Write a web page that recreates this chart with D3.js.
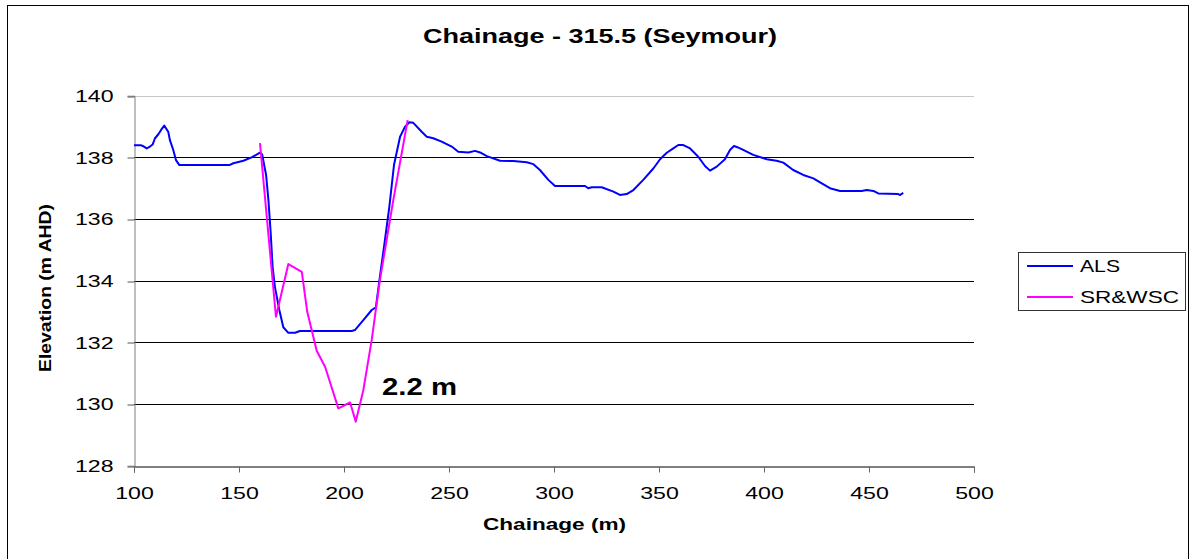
<!DOCTYPE html>
<html><head><meta charset="utf-8">
<script src="https://cdn.jsdelivr.net/npm/d3@7"></script>
<style>html,body{margin:0;padding:0;background:#fff;overflow:hidden}</style>
</head><body>
<svg id="chart" width="1190" height="559"></svg>
<script>
const titleText = "Chainage - 315.5 (Seymour)";
const xLabel = "Chainage (m)";
const yLabel = "Elevation (m AHD)";
const annotationText = "2.2 m";
const seriesNames = ["ALS", "SR&WSC"];
const xTicks = [100, 150, 200, 250, 300, 350, 400, 450, 500];
const yTicks = [128, 130, 132, 134, 136, 138, 140];

const alsX = [100,103.5,104.2,106,107.6,108.9,110,111.6,112.9,114.4,116.3,117.1,118.7,120,121.6,145.4,147.3,152.1,156,160,161,162.9,164,165.1,166,167.1,169.2,171.1,173.5,176.7,179,203.7,205.2,209.2,213.2,215.2,217.1,219.5,221.6,223.8,226.7,229,231.1,233,237,239.4,242.5,246.5,251.3,254.4,259.2,262.4,264.8,268,274.3,280.6,287,290.2,293.3,297.3,300.5,314.8,316.3,318,322.7,328.3,331.4,334.6,337.8,342.5,347.3,350.5,353.7,356.8,359.2,361.6,364.8,368.7,371.9,374.3,377.5,381.4,383.8,385.7,387.3,390.1,394.9,401.3,406,409.2,413.9,418.7,423.5,427.5,431.4,436.2,446.5,448.9,452.1,454.4,463.9,464.8,466.3];
const alsY = [138.39,138.39,138.37,138.29,138.35,138.42,138.62,138.75,138.89,139.03,138.83,138.56,138.24,137.91,137.75,137.75,137.81,137.89,138.0,138.15,138.1,137.43,136.62,135.54,134.45,133.8,133.05,132.49,132.31,132.31,132.37,132.37,132.40,132.72,133.05,133.14,134.13,135.32,136.40,137.75,138.67,138.99,139.14,139.12,138.83,138.67,138.62,138.51,138.35,138.18,138.16,138.21,138.16,138.04,137.89,137.88,137.84,137.78,137.59,137.27,137.07,137.07,137.0,137.03,137.03,136.89,136.78,136.81,136.94,137.27,137.64,137.94,138.15,138.29,138.40,138.40,138.29,138.02,137.72,137.57,137.70,137.94,138.24,138.37,138.33,138.24,138.08,137.94,137.89,137.83,137.59,137.43,137.32,137.16,137.0,136.91,136.91,136.94,136.91,136.83,136.81,136.78,136.85];

const srX = [160,167.6,173.5,179.9,182.5,187,191,197.3,202.9,205.6,209.2,213.2,217.1,223.5,230.3];
const srY = [138.46,132.83,134.54,134.29,132.99,131.73,131.21,129.86,130.05,129.43,130.45,132.08,134.02,136.62,139.21];

const FONT = "'Liberation Sans', Arial, Helvetica, sans-serif";
const svg = d3.select("#chart");

// outer border
svg.append("rect").attr("x", 7.5).attr("y", 5.5).attr("width", 1181).attr("height", 600)
  .attr("fill", "#fff").attr("stroke", "#000").attr("stroke-width", 1);

const x = d3.scaleLinear().domain([100, 500]).range([134, 974]);
const y = d3.scaleLinear().domain([128, 140]).range([465.7, 95.7]);
const crisp = v => Math.round(v) + 0.5;

// gridlines
svg.append("g").selectAll("line").data(yTicks.filter(v => v > 128)).join("line")
  .attr("x1", x(100)).attr("x2", x(500))
  .attr("y1", d => crisp(y(d))).attr("y2", d => crisp(y(d)))
  .attr("stroke", d => d === 140 ? "#c8c8c8" : "#000").attr("stroke-width", 1);

// y axis
const yAxis = svg.append("g").attr("transform", `translate(${crisp(x(100))},0)`)
  .call(d3.axisLeft(y).tickValues(yTicks).tickSize(7).tickFormat(d3.format("d")));
yAxis.select(".domain").attr("stroke", "#808080");
yAxis.selectAll(".tick line").attr("stroke", "#555").attr("transform", d => `translate(0,${crisp(y(d)) - y(d)})`);
yAxis.selectAll(".tick text").attr("font-family", FONT).attr("font-size", 17).attr("fill", "#000")
  .attr("x", -15.4).attr("dy", "0.35em").attr("transform", "scale(1.36,1)");

// x axis
const xAxis = svg.append("g").attr("transform", `translate(0,${crisp(y(128))})`)
  .call(d3.axisBottom(x).tickValues(xTicks).tickSize(6).tickFormat(d3.format("d")));
xAxis.select(".domain").attr("stroke", "#000");
xAxis.selectAll(".tick line").attr("stroke", "#666");
xAxis.selectAll(".tick text").attr("font-family", FONT).attr("font-size", 17).attr("fill", "#000")
  .attr("y", 32.6).attr("dy", 0).attr("transform", "scale(1.36,1)");
// scale about tick origin: tick group is translated so scale keeps centering
xAxis.selectAll(".tick text").attr("text-anchor", "middle");

// lines
const line = d3.line().x(d => x(d[0])).y(d => y(d[1]));
const alsData = alsX.map((v, i) => [v, alsY[i]]);
const srData = srX.map((v, i) => [v, srY[i]]);
svg.append("path").datum(alsData).attr("d", line).attr("fill", "none")
  .attr("stroke", "#0000ff").attr("stroke-width", 2).attr("stroke-linejoin", "round");
svg.append("path").datum(srData).attr("d", line).attr("fill", "none")
  .attr("stroke", "#ff00ff").attr("stroke-width", 2).attr("stroke-linejoin", "round");

// title
svg.append("text").attr("x", 600).attr("y", 42.5).attr("text-anchor", "middle")
  .attr("font-family", FONT).attr("font-weight", "bold").attr("font-size", 20)
  .attr("textLength", 354).attr("lengthAdjust", "spacingAndGlyphs").text(titleText);

// axis titles
svg.append("text").attr("x", 554.5).attr("y", 530).attr("text-anchor", "middle")
  .attr("font-family", FONT).attr("font-weight", "bold").attr("font-size", 16)
  .attr("textLength", 143).attr("lengthAdjust", "spacingAndGlyphs").text(xLabel);
svg.append("text").attr("transform", "translate(51,288) rotate(-90)").attr("text-anchor", "middle")
  .attr("font-family", FONT).attr("font-weight", "bold").attr("font-size", 17)
  .attr("textLength", 168).attr("lengthAdjust", "spacingAndGlyphs").text(yLabel);

// annotation
svg.append("text").attr("x", 382).attr("y", 395)
  .attr("font-family", FONT).attr("font-weight", "bold").attr("font-size", 23)
  .attr("textLength", 75).attr("lengthAdjust", "spacingAndGlyphs").text(annotationText);

// legend
const lg = svg.append("g");
lg.append("rect").attr("x", 1018.5).attr("y", 252.5).attr("width", 167).attr("height", 58)
  .attr("fill", "#fff").attr("stroke", "#333").attr("stroke-width", 1);
const legendColors = ["#0000ff", "#ff00ff"];
const legendY = [266, 297];
const legendLen = [40, 99];
seriesNames.forEach((n, i) => {
  lg.append("line").attr("x1", 1027).attr("x2", 1073).attr("y1", legendY[i]).attr("y2", legendY[i])
    .attr("stroke", legendColors[i]).attr("stroke-width", 2);
  lg.append("text").attr("x", 1080).attr("y", legendY[i] + 6)
    .attr("font-family", FONT).attr("font-size", 17)
    .attr("textLength", legendLen[i]).attr("lengthAdjust", "spacingAndGlyphs").text(n);
});
</script>
</body></html>
